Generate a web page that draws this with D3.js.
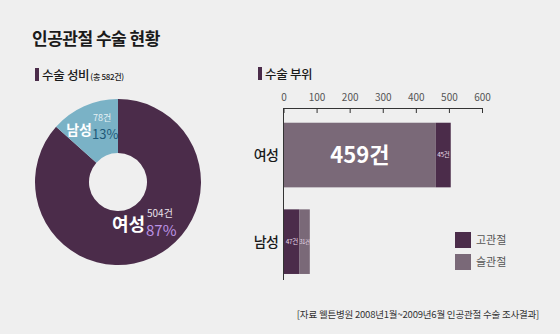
<!DOCTYPE html>
<html>
<head>
<meta charset="utf-8">
<script src="https://cdn.jsdelivr.net/npm/d3@7"></script>
<style>
  html, body { margin: 0; padding: 0; background: #efefef; }
  svg { display: block; font-family: "Noto Sans CJK KR", "Noto Sans", sans-serif; }
</style>
</head>
<body>
<svg id="chart" width="560" height="334"></svg>
<script>
// Gender split of joint replacement surgeries
const genderNames = ["여성", "남성"];
const genderCounts = [504, 78];

// Surgery site by gender
const barCategories = ["여성", "남성"];
const siteKeys = ["슬관절", "고관절"];
const kneeCounts = [459, 31];
const hipCounts = [45, 47];
// stacking order per category (female: knee first, male: hip first)
const stackOrder = [["슬관절", "고관절"], ["고관절", "슬관절"]];
const xTicks = [0, 100, 200, 300, 400, 500, 600];

const colHip = "#4b2c4a";
const colKnee = "#7a6978";
const colMale = "#7ab2c6";

const svg = d3.select("#chart");

// Title
svg.append("text").attr("x", 32).attr("y", 45)
  .attr("font-size", 17).attr("font-weight", 700).attr("fill", "#1a1a1a")
  .attr("letter-spacing", -0.5)
  .text("인공관절 수술 현황");

// Section headings
function heading(x, y, main, sub) {
  svg.append("rect").attr("x", x).attr("y", y - 12).attr("width", 4).attr("height", 13).attr("fill", colHip);
  const t = svg.append("text").attr("x", x + 7).attr("y", y)
    .attr("font-size", 12.5).attr("font-weight", 500).attr("fill", "#1a1a1a").attr("letter-spacing", -0.3);
  t.append("tspan").text(main);
  if (sub) t.append("tspan").attr("font-size", 8).attr("dx", 1).text(sub);
}
heading(35, 80, "수술 성비", "(총 582건)");
heading(258, 79, "수술 부위");

// Donut
const cx = 118, cy = 182, rOuter = 83, rInner = 29;
const pie = d3.pie().sort(null).value(d => d);
const arcs = pie(genderCounts);
const arc = d3.arc().innerRadius(rInner).outerRadius(rOuter);
const g = svg.append("g").attr("transform", `translate(${cx},${cy})`);
g.selectAll("path").data(arcs).join("path")
  .attr("d", arc)
  .attr("fill", (d, i) => i === 0 ? colHip : colMale);

// Donut labels
const total = d3.sum(genderCounts);
const pct = genderCounts.map(v => Math.round(v / total * 100));
// male
svg.append("text").attr("x", 92).attr("y", 135).attr("text-anchor", "end")
  .attr("font-size", 14).attr("font-weight", 700).attr("fill", "#ffffff").text(genderNames[1]);
svg.append("text").attr("x", 93).attr("y", 120.5)
  .attr("font-size", 9).attr("fill", "#e6f1f5").text(genderCounts[1] + "건");
svg.append("text").attr("x", 92).attr("y", 139)
  .attr("font-size", 13).attr("fill", "#1d5878").text(pct[1] + "%");
// female
svg.append("text").attr("x", 145).attr("y", 231).attr("text-anchor", "end")
  .attr("font-size", 18).attr("font-weight", 700).attr("fill", "#ffffff").text(genderNames[0]);
svg.append("text").attr("x", 147).attr("y", 217)
  .attr("font-size", 10).attr("fill", "#e9e1ea").text(genderCounts[0] + "건");
svg.append("text").attr("x", 146).attr("y", 236)
  .attr("font-size", 15).attr("fill", "#bb92e4").text(pct[0] + "%");

// Bar chart
const x = d3.scaleLinear().domain([0, 600]).range([283.5, 482]);
const y = d3.scaleBand().domain(barCategories).range([113.2, 283.5]).paddingInner(0.254).paddingOuter(0.11);

const xAxis = svg.append("g").attr("transform", "translate(0,108)")
  .call(d3.axisBottom(x).tickValues(xTicks).tickSize(5).tickSizeOuter(0).tickFormat(d3.format("d")));
xAxis.select(".domain").attr("stroke", "#333");
xAxis.selectAll(".tick line").attr("stroke", "#333");
xAxis.selectAll(".tick text").attr("y", -7).attr("dy", 0)
  .attr("font-size", 10).attr("fill", "#555").attr("font-family", "'Noto Sans CJK KR', sans-serif");

// vertical baseline
svg.append("line").attr("x1", x(0)).attr("x2", x(0)).attr("y1", 108).attr("y2", 280)
  .attr("stroke", "#333").attr("stroke-width", 1);

const siteValues = { "슬관절": kneeCounts, "고관절": hipCounts };
const siteColor = { "슬관절": colKnee, "고관절": colHip };

const segs = [];
barCategories.forEach((c, i) => {
  let acc = 0;
  stackOrder[i].forEach(k => {
    const v = siteValues[k][i];
    segs.push({ cat: c, key: k, v, x0: acc, x1: acc + v });
    acc += v;
  });
});

svg.append("g").selectAll("rect").data(segs).join("rect")
  .attr("x", d => x(d.x0) + 0.5)
  .attr("y", d => y(d.cat))
  .attr("width", d => x(d.x1) - x(d.x0))
  .attr("height", y.bandwidth())
  .attr("fill", d => siteColor[d.key]);

// segment labels
const labelSize = d => d.v > 200 ? 22 : (d.v >= 40 ? 6.5 : 5.5);
svg.append("g").selectAll("text").data(segs).join("text")
  .attr("x", d => (x(d.x0) + x(d.x1)) / 2 + 0.5)
  .attr("y", d => y(d.cat) + y.bandwidth() / 2)
  .attr("dy", "0.35em")
  .attr("text-anchor", "middle")
  .attr("font-size", labelSize)
  .attr("font-weight", d => d.v > 200 ? 700 : 400)
  .attr("fill", d => d.v > 200 ? "#ffffff" : "#e8dbe8")
  .attr("letter-spacing", d => d.v > 200 ? 0 : -0.3)
  .text(d => d.v + "건");

// category labels
svg.append("g").selectAll("text").data(barCategories).join("text")
  .attr("x", 278).attr("y", d => y(d) + y.bandwidth() / 2)
  .attr("dy", "0.35em").attr("text-anchor", "end")
  .attr("font-size", 14).attr("font-weight", 500).attr("fill", "#1a1a1a")
  .attr("letter-spacing", -0.8)
  .text(d => d);

// Legend
const legend = svg.append("g").attr("transform", "translate(455,232)");
["고관절", "슬관절"].forEach((k, i) => {
  legend.append("rect").attr("x", 0).attr("y", i * 22).attr("width", 16).attr("height", 16).attr("fill", siteColor[k]);
  legend.append("text").attr("x", 21).attr("y", i * 22 + 8).attr("dy", "0.35em")
    .attr("font-size", 11).attr("fill", "#555").text(k);
});

// Source note
svg.append("text").attr("x", 418).attr("y", 318).attr("text-anchor", "middle")
  .attr("font-size", 9.5).attr("fill", "#333").attr("letter-spacing", -0.2)
  .text("[자료 웰튼병원 2008년1월~2009년6월 인공관절 수술 조사결과]");
</script>
</body>
</html>
